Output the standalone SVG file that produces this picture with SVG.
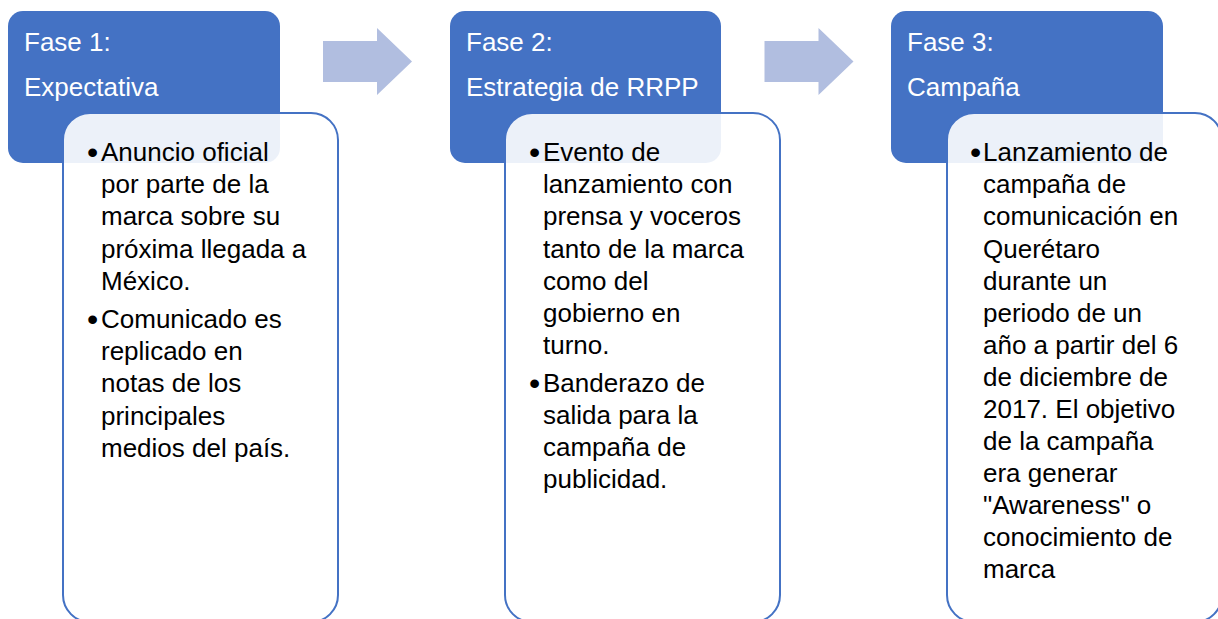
<svg xmlns="http://www.w3.org/2000/svg" width="1218" height="619" viewBox="0 0 1218 619">
<style>
.hdr{fill:#4472C4}
.card{fill:#FFFFFF;fill-opacity:0.9;stroke:#4472C4;stroke-width:2}
.arrow{fill:#B1BEE0}
.ht{font-family:"Liberation Sans",Arial,sans-serif;font-size:26px;fill:#FFFFFF}
.bt{font-family:"Liberation Sans",Arial,sans-serif;font-size:26px;fill:#000000}
.bl{font-family:"Liberation Sans",Arial,sans-serif;font-size:32px;fill:#000000}
</style>
<rect width="1218" height="619" fill="#FFFFFF"/>
<g id="connectors">
<polygon class="arrow" points="323,41 377,41 377,28 412,61.5 377,95 377,82 323,82"/>
<polygon class="arrow" points="764.5,41 818.5,41 818.5,28 853.5,61.5 818.5,95 818.5,82 764.5,82"/>
</g>
<g id="fase1">
<rect class="hdr" x="8" y="11" width="272" height="152" rx="15"/>
<text class="ht" x="24" y="51">Fase 1:</text>
<text class="ht" x="24" y="96">Expectativa</text>
<rect class="card" x="63" y="113" width="275" height="509" rx="27"/>
<text class="bl" x="87" y="162.5">•</text>
<text class="bl" x="87" y="329.5">•</text>
<text class="bt"><tspan x="101" y="161">Anuncio oficial</tspan><tspan x="101" y="193">por parte de la</tspan><tspan x="101" y="225">marca sobre su</tspan><tspan x="101" y="257.5">próxima llegada a</tspan><tspan x="101" y="289.5">México.</tspan><tspan x="101" y="328">Comunicado es</tspan><tspan x="101" y="360">replicado en</tspan><tspan x="101" y="392">notas de los</tspan><tspan x="101" y="424.5">principales</tspan><tspan x="101" y="456.5">medios del país.</tspan></text>
</g>
<g id="fase2">
<rect class="hdr" x="450" y="11" width="271" height="152" rx="15"/>
<text class="ht" x="466" y="51">Fase 2:</text>
<text class="ht" x="466" y="96">Estrategia de RRPP</text>
<rect class="card" x="505" y="113" width="275" height="509" rx="27"/>
<text class="bl" x="529" y="162.5">•</text>
<text class="bl" x="529" y="393.5">•</text>
<text class="bt"><tspan x="543" y="161">Evento de</tspan><tspan x="543" y="193">lanzamiento con</tspan><tspan x="543" y="225">prensa y voceros</tspan><tspan x="543" y="257.5">tanto de la marca</tspan><tspan x="543" y="289.5">como del</tspan><tspan x="543" y="321.5">gobierno en</tspan><tspan x="543" y="353.5">turno.</tspan><tspan x="543" y="392">Banderazo de</tspan><tspan x="543" y="424">salida para la</tspan><tspan x="543" y="456">campaña de</tspan><tspan x="543" y="488">publicidad.</tspan></text>
</g>
<g id="fase3">
<rect class="hdr" x="891" y="11" width="272" height="152" rx="15"/>
<text class="ht" x="907" y="51">Fase 3:</text>
<text class="ht" x="907" y="96">Campaña</text>
<rect class="card" x="947" y="113" width="275" height="509" rx="27"/>
<text class="bl" x="970" y="162.5">•</text>
<text class="bt"><tspan x="983" y="161">Lanzamiento de</tspan><tspan x="983" y="193">campaña de</tspan><tspan x="983" y="225">comunicación en</tspan><tspan x="983" y="257.5">Querétaro</tspan><tspan x="983" y="289.5">durante un</tspan><tspan x="983" y="321.5">periodo de un</tspan><tspan x="983" y="353.5">año a partir del 6</tspan><tspan x="983" y="385.5">de diciembre de</tspan><tspan x="983" y="417.5">2017. El objetivo</tspan><tspan x="983" y="450">de la campaña</tspan><tspan x="983" y="482">era generar</tspan><tspan x="983" y="514">"Awareness" o</tspan><tspan x="983" y="546">conocimiento de</tspan><tspan x="983" y="578">marca</tspan></text>
</g>
</svg>
